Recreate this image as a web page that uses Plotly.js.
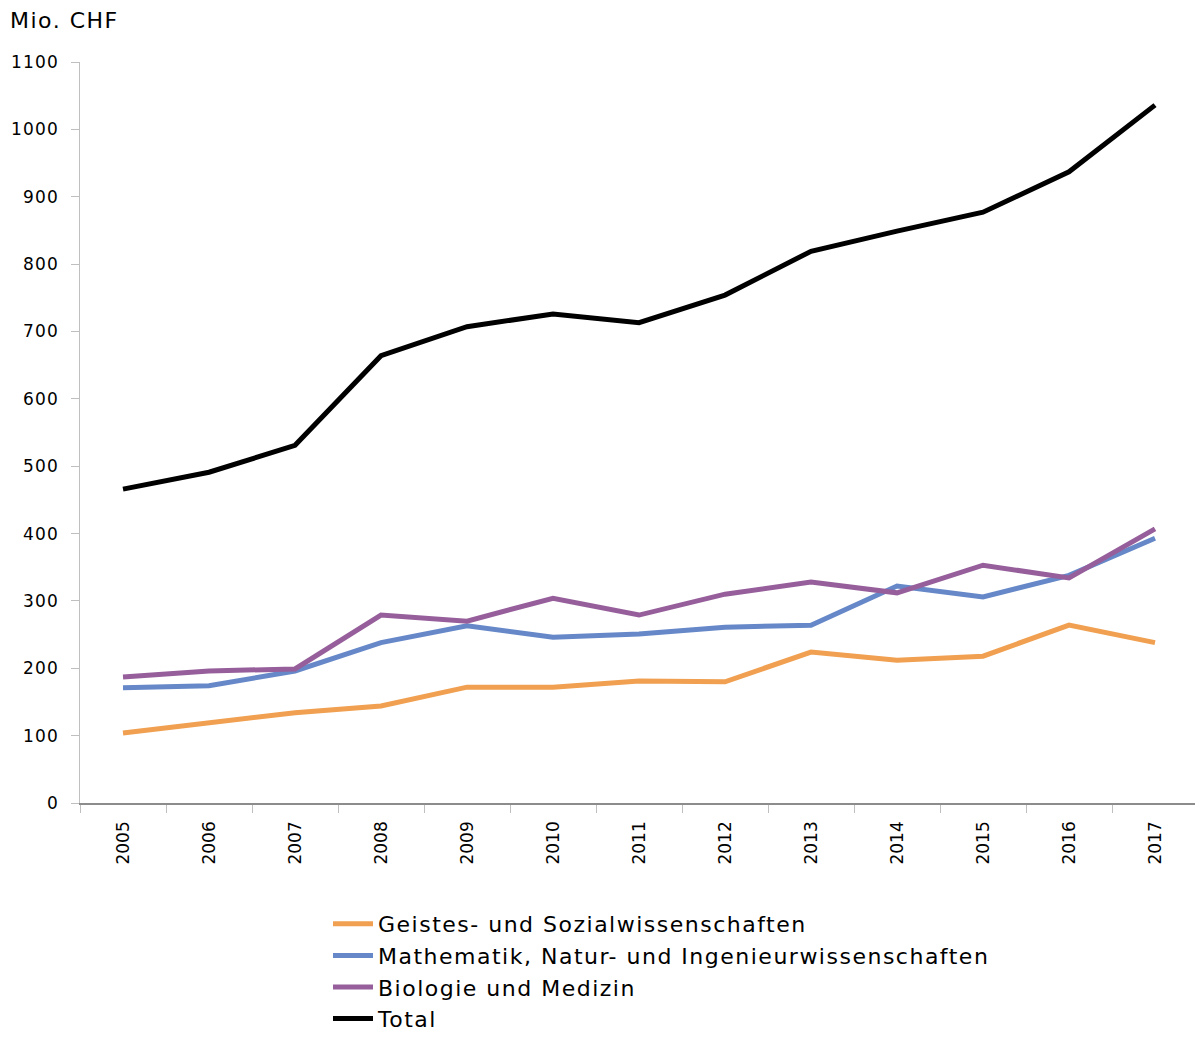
<!DOCTYPE html>
<html>
<head>
<meta charset="utf-8">
<script src="https://cdn.plot.ly/plotly-3.0.1.min.js"></script>
<style>
html,body{margin:0;padding:0;background:#fff;}
#chart{width:1195px;height:1037px;}
text.legendtext, text.gtitle{letter-spacing:1.5px;}
.ytick text{letter-spacing:1.2px;}
</style>
</head>
<body>
<div id="chart"></div>
<script>
const years = ["2005","2006","2007","2008","2009","2010","2011","2012","2013","2014","2015","2016","2017"];
const geistes = [104,119,134,144,172,172,181,180,224,212,218,264,238];
const mathematik = [171,174,196,238,263,246,251,261,264,322,306,338,393];
const biologie = [187,196,199,279,270,304,279,310,328,312,353,334,407];
const total = [466,491,531,664,707,726,713,754,819,849,877,937,1036];
const seriesNames = ["Geistes- und Sozialwissenschaften","Mathematik, Natur- und Ingenieurwissenschaften","Biologie und Medizin","Total"];
const yTicks = [0,100,200,300,400,500,600,700,800,900,1000,1100];

const colors = ["#F0A050","#6688C8","#965F9B","#000000"];
const data = [geistes, mathematik, biologie, total].map((vals,i)=>({
  type:"scatter", mode:"lines", x:years, y:vals, name:seriesNames[i],
  legendgroup:"g"+i,
  line:{color:colors[i], width:5}
}));

const layout = {
  width:1195, height:1037,
  margin:{l:80, r:0, t:62, b:234, autoexpand:false},
  paper_bgcolor:"#fff", plot_bgcolor:"#fff",
  font:{family:"DejaVu Sans, Verdana, sans-serif", size:18, color:"#000"},
  showlegend:true,
  title:{text:"Mio. CHF", font:{size:22, color:"#000"}, xref:"container", yref:"container", x:10/1195, xanchor:"left", y:1-20/1037, yanchor:"middle"},
  xaxis:{type:"category", range:[-0.5,12.465], tickson:"boundaries", ticks:"outside", ticklen:8, tickcolor:"#bfbfbf",
    showline:true, linecolor:"#8c8c8c", linewidth:1.5, showgrid:false, zeroline:false, tickangle:-90, tickfont:{size:17},
    ticklabelstandoff:10, automargin:false},
  yaxis:{range:[0,1100], tickvals:yTicks, ticktext:yTicks.map(String), ticks:"outside", ticklen:8, tickcolor:"#bfbfbf",
    showline:true, linecolor:"#bfbfbf", linewidth:1.5, showgrid:false, zeroline:false, tickfont:{size:17},
    ticklabelstandoff:8, automargin:false},
  legend:{x:(328-80)/1115, xanchor:"left", y:-(903-803)/741, yanchor:"top", orientation:"v",
    traceorder:"grouped", tracegroupgap:0, font:{size:22}, itemwidth:40, bgcolor:"rgba(0,0,0,0)"}
};
Plotly.newPlot("chart", data, layout, {displayModeBar:false, staticPlot:true});
</script>
</body>
</html>
